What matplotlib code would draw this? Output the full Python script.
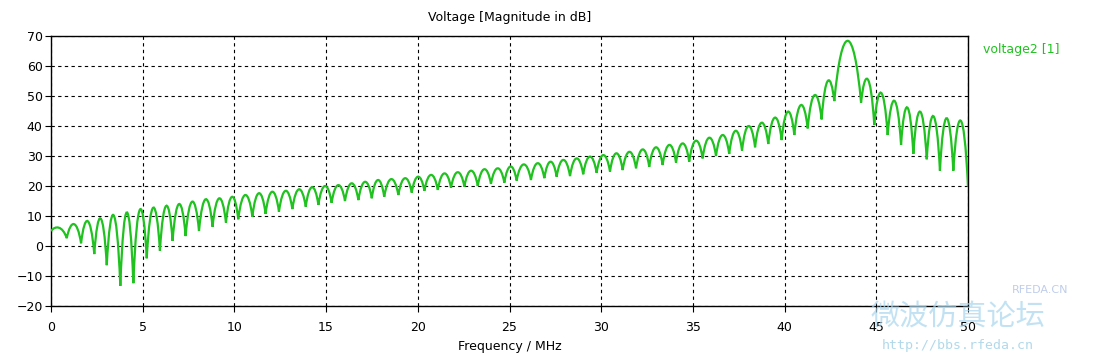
import matplotlib
matplotlib.use('Agg')
import matplotlib.pyplot as plt
import numpy as np
from matplotlib.path import Path
from matplotlib.patches import PathPatch

plt.rcParams.update({
    'font.family': ['DejaVu Sans'],
    'font.size': 9,
})

# Notch (trough) frequencies in MHz; first/last are the ends
notch_freq = [
    0.0, 0.86, 1.64, 2.36, 3.04, 3.78, 4.49, 5.22, 5.94, 6.63, 7.34, 8.07,
    8.81, 9.54, 10.21, 10.98, 11.70, 12.43, 13.16, 13.89, 14.58, 15.30,
    16.03, 16.76, 17.49, 18.17, 18.94, 19.67, 20.36, 21.09, 21.81, 22.54,
    23.27, 23.99, 24.72, 25.39, 26.17, 26.90, 27.57, 28.30, 29.02, 29.75,
    30.48, 31.17, 31.90, 32.62, 33.35, 34.08, 34.80, 35.53, 36.26, 36.98,
    37.68, 38.39, 39.11, 39.84, 40.53, 41.26, 42.02, 42.71, 44.17, 44.89,
    45.62, 46.35, 47.02, 47.75, 48.47, 49.20, 50.0,
]
# Level at each notch (dB)
notch_db = [
    5.0, 2.6, 0.9, -2.7, -6.4, -13.3, -12.4, -4.1, -1.6, 1.7, 3.3, 5.0,
    6.4, 7.8, 8.9, 9.8, 10.7, 11.4, 12.3, 13.1, 13.7, 14.4,
    15.0, 15.3, 15.9, 16.4, 17.0, 17.8, 18.4, 18.7, 19.4, 19.8,
    20.0, 20.7, 21.1, 21.8, 22.0, 22.6, 23.1, 23.3, 23.9, 24.4,
    24.8, 25.3, 25.9, 26.4, 27.0, 27.8, 28.1, 29.2, 30.0, 30.7,
    31.8, 32.9, 34.0, 35.3, 37.0, 39.2, 42.2, 48.3, 47.8, 40.3,
    37.0, 33.7, 30.7, 28.9, 25.1, 25.1, 19.8,
]
# Top of each lobe between two notches (dB)
lobe_peak_db = [
    6.1, 7.3, 8.3, 9.2, 10.3, 11.2, 12.2, 12.8, 13.4, 14.0, 14.8, 15.6,
    15.9, 16.4, 17.0, 17.6, 18.1, 18.4, 18.9, 19.6, 20.0, 20.3, 20.9, 21.4,
    22.0, 22.3, 22.6, 23.1, 23.7, 24.2, 24.6, 25.1, 25.6, 25.9, 26.5, 27.2,
    27.6, 28.1, 28.7, 29.2, 29.8, 30.3, 30.9, 31.4, 32.2, 32.9, 33.7, 34.2,
    35.1, 36.1, 37.0, 38.4, 40.0, 41.1, 42.8, 44.8, 47.0, 50.3, 55.1, 68.4,
    55.6, 51.1, 48.4, 46.2, 44.8, 43.3, 42.6, 41.8,
]

x_ticks = [0, 5, 10, 15, 20, 25, 30, 35, 40, 45, 50]
y_ticks = [-20, -10, 0, 10, 20, 30, 40, 50, 60, 70]

# each lobe is one cubic Bezier from notch to notch, passing through its peak
verts = [(notch_freq[0], notch_db[0])]
codes = [Path.MOVETO]
for i, pk in enumerate(lobe_peak_db):
    x0, y0 = notch_freq[i], notch_db[i]
    x2, y2 = notch_freq[i + 1], notch_db[i + 1]
    dx = x2 - x0
    c = (pk - 0.125 * (y0 + y2)) / 0.75
    verts += [(x0 + 0.28 * dx, c), (x2 - 0.28 * dx, c), (x2, y2)]
    codes += [Path.CURVE4] * 3

fig = plt.figure(figsize=(10.93, 3.58), dpi=100)
ax = fig.add_axes([51 / 1093, 1 - 306 / 358, 917 / 1093, 270 / 358])

trace = PathPatch(Path(verts, codes), fill=False, edgecolor='#20c220',
                  linewidth=1.6, zorder=3)
ax.add_patch(trace)

ax.set_xlim(0, 50)
ax.set_ylim(-20, 70)
ax.set_xticks(x_ticks)
ax.set_yticks(y_ticks)
ax.grid(True, color='black', linestyle=(0, (3, 3)), linewidth=0.8)
ax.tick_params(direction='out', length=4, width=0.8, labelsize=9)
ax.tick_params(axis='x', pad=7)
ax.tick_params(axis='y', pad=2)
for sp in ax.spines.values():
    sp.set_linewidth(1.0)

ax.set_title('Voltage [Magnitude in dB]', fontsize=9, pad=11)
ax.set_xlabel('Frequency / MHz', fontsize=9, labelpad=4)

fig.text(983 / 1093, 1 - 50 / 358, 'voltage2 [1]', color='#20c220',
         fontsize=9, va='center', ha='left')

# forum watermark
fig.text(958 / 1093, 1 - 318 / 358, '微波仿真论坛', color='#a9d7ee', alpha=0.7,
         fontsize=21, ha='center', va='center', style='italic',
         family=['Noto Sans CJK SC', 'DejaVu Sans'], zorder=0)
fig.text(958 / 1093, 1 - 345 / 358, 'http://bbs.rfeda.cn', color='#9fcfe6',
         alpha=0.8, fontsize=9.5, ha='center', va='center',
         family=['DejaVu Sans Mono'])
fig.text(1040 / 1093, 1 - 290 / 358, 'RFEDA.CN', color='#b8c8e8',
         alpha=0.9, fontsize=8, ha='center', va='center')

fig.savefig('out.png', dpi=100)
